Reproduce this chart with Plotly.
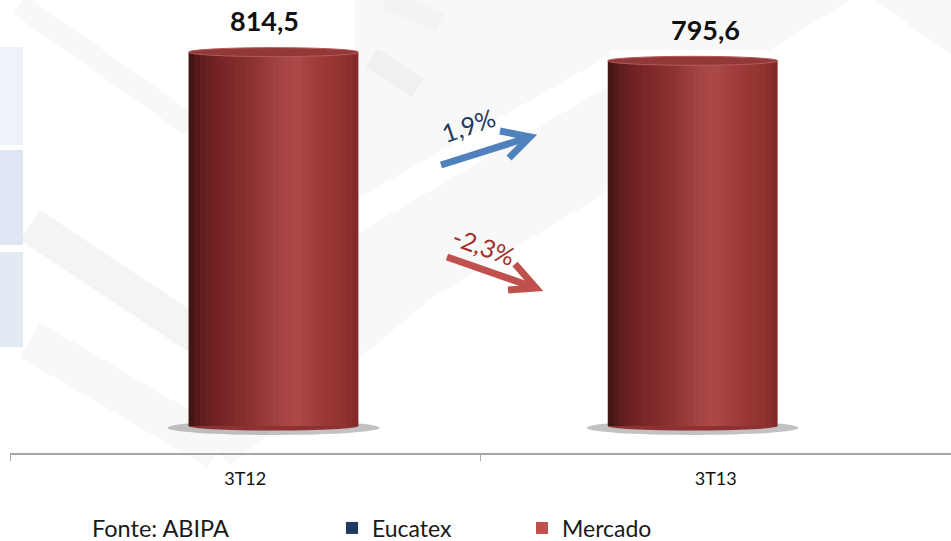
import plotly.graph_objects as go

# data
categories = ["3T12", "3T13"]
mercado = [814.5, 795.6]
eucatex = [None, None]
value_labels = ["814,5", "795,6"]
var_eucatex = "1,9%"
var_mercado = "-2,3%"
fonte = "Fonte: ABIPA"

FONT = "Lato, Open Sans, sans-serif"

# plot area in pixels (used only for decoration placement)
W, H = 951, 541
L, R, T, B = 10, 0, 20, 88
PW, PH = W - L - R, H - T - B


def px(x):
    return (x - L) / PW


def py(y):
    return (H - B - y) / PH


# cylinder geometry (category units)
cyl_w = 0.361
cyl_off = [0.06, -0.049]
n_strips = 30
stops = [(0.0, (58, 18, 18)), (0.06, (92, 28, 28)), (0.18, (118, 36, 36)),
         (0.38, (140, 50, 50)), (0.56, (168, 70, 70)), (0.63, (172, 74, 74)),
         (0.78, (156, 58, 58)), (0.92, (145, 50, 48)), (1.0, (128, 40, 40))]


def grad(t):
    for (t0, c0), (t1, c1) in zip(stops, stops[1:]):
        if t <= t1:
            f = (t - t0) / (t1 - t0)
            c = [round(a + (b - a) * f) for a, b in zip(c0, c1)]
            return "rgb(%d,%d,%d)" % tuple(c)
    return "rgb(%d,%d,%d)" % stops[-1][1]


fig = go.Figure()

sw = cyl_w / n_strips
for i in range(n_strips):
    w = min(sw * 1.6, cyl_w - i * sw)
    fig.add_trace(go.Bar(
        x=categories, y=mercado,
        offset=[o - cyl_w / 2 + i * sw for o in cyl_off],
        width=[w, w],
        marker=dict(color=grad((i + 0.5) / n_strips), line=dict(width=0)),
        showlegend=False, hoverinfo="skip",
    ))

# legend entries
fig.add_trace(go.Bar(x=categories, y=eucatex, name="Eucatex",
                     marker=dict(color="#1f3b63", line=dict(width=0))))
fig.add_trace(go.Bar(x=categories, y=[None] * len(mercado), name="Mercado",
                     marker=dict(color="#c0504d", line=dict(width=0))))

# y scale: zero at pixel 426, 0.459 px per unit
ppu = 0.459
zero_px = 426
y_min = -(H - B - zero_px) / ppu
y_max = (zero_px - T) / ppu
eh = 4.5 / ppu

shapes = []


def poly(pts, color):
    path = "M" + " L".join("%f,%f" % (px(a), py(b)) for a, b in pts) + " Z"
    shapes.append(dict(type="path", xref="paper", yref="paper", path=path,
                       fillcolor=color, line=dict(width=0), layer="below"))


def band(p0, p1, width, color):
    shapes.append(dict(type="line", xref="paper", yref="paper",
                       x0=px(p0[0]), y0=py(p0[1]), x1=px(p1[0]), y1=py(p1[1]),
                       line=dict(color=color, width=width), layer="below"))


# faint background pattern
bg = "#f8f8f9"
poly([(355, 0), (610, 0), (610, 55), (355, 200)], bg)
poly([(355, 235), (610, 85), (610, 190), (355, 345)], bg)
poly([(610, 0), (850, 0), (770, 50), (610, 50)], bg)
poly([(875, 0), (951, 0), (951, 55)], bg)
band((30, 225), (218, 350), 36, "#f4f4f5")
band((30, 340), (218, 450), 40, bg)
band((218, 450), (470, 240), 40, bg)
band((20, 5), (190, 125), 22, bg)
band((372, 58), (418, 88), 22, "#f0f0f1")
band((385, 0), (440, 22), 20, "#f3f3f4")

# pale blue boxes on the left edge
for (y0, y1, c) in [(47, 145, "#eef3fa"), (150, 245, "#dde6f2"), (252, 347, "#e3eaf4")]:
    shapes.append(dict(type="rect", xref="paper", yref="paper",
                       x0=px(-2), x1=px(23), y0=py(y1), y1=py(y0),
                       fillcolor=c, line=dict(width=0), layer="below"))

# cylinder ends
for k, v in enumerate(mercado):
    cx = k + cyl_off[k]
    shapes.append(dict(type="circle", xref="x", yref="y",
                       x0=cx - cyl_w / 2 - 0.045, x1=cx + cyl_w / 2 + 0.045,
                       y0=-eh * 2.0, y1=eh * 1.2,
                       fillcolor="rgba(80,80,80,0.35)", line=dict(width=0), layer="below"))
    shapes.append(dict(type="circle", xref="x", yref="y",
                       x0=cx - cyl_w / 2, x1=cx + cyl_w / 2, y0=-eh, y1=eh,
                       fillcolor="#8c3232", line=dict(width=0), layer="below"))
    shapes.append(dict(type="circle", xref="x", yref="y",
                       x0=cx - cyl_w / 2, x1=cx + cyl_w / 2, y0=v - eh, y1=v + eh,
                       fillcolor="#933838", line=dict(color="#b45a5a", width=1), layer="above"))


# arrows with open chevron heads
def arrow(p0, tip, a1, a2, color):
    pts = lambda *ps: " L".join("%f,%f" % (px(a), py(b)) for a, b in ps)
    shapes.append(dict(type="path", xref="paper", yref="paper",
                       path="M" + pts(p0, tip), line=dict(color=color, width=7), layer="above"))
    shapes.append(dict(type="path", xref="paper", yref="paper",
                       path="M" + pts(a1, tip, a2), line=dict(color=color, width=7), layer="above"))


arrow((441, 165), (530, 137), (500, 131), (509, 158), "#4f81bd")
arrow((447, 257), (536, 288), (515, 264), (508, 290), "#c0504d")

annotations = [
    dict(xref="paper", yref="paper", x=px(468), y=py(125), xanchor="center", yanchor="middle",
         text=var_eucatex, showarrow=False, textangle=-19,
         font=dict(family=FONT, size=25, color="#1f3a5f")),
    dict(xref="paper", yref="paper", x=px(484), y=py(246), xanchor="center", yanchor="middle",
         text=var_mercado, showarrow=False, textangle=20,
         font=dict(family=FONT, size=25, color="#a3302e")),
    dict(xref="paper", yref="paper", x=px(90), y=py(528), xanchor="left", yanchor="middle",
         text=fonte, showarrow=False, font=dict(family=FONT, size=23.5, color="#1a1a1a")),
]
label_dx = [0.04, -0.021]
for k, (v, t) in enumerate(zip(mercado, value_labels)):
    annotations.append(dict(x=k + label_dx[k], y=v, xref="x", yref="y", text="<b>%s</b>" % t,
                            showarrow=False, xanchor="center", yanchor="bottom", yshift=13,
                            font=dict(family=FONT, size=27, color="#111111")))

fig.update_layout(
    width=W, height=H,
    margin=dict(l=L, r=R, t=T, b=B, autoexpand=False),
    paper_bgcolor="white", plot_bgcolor="rgba(0,0,0,0)",
    barmode="overlay",
    shapes=shapes, annotations=annotations,
    xaxis=dict(type="category", range=[-0.5, 1.5], showgrid=False, zeroline=False,
               showline=True, linecolor="#a6a6a6", linewidth=2,
               ticks="outside", tickson="boundaries", ticklen=6, tickcolor="#a6a6a6",
               tickwidth=1, ticklabelstandoff=8,
               tickfont=dict(family=FONT, size=18, color="#111111")),
    yaxis=dict(visible=False, range=[y_min, y_max], showgrid=False, zeroline=False),
    showlegend=True,
    legend=dict(orientation="h", x=px(332), xanchor="left", y=py(528), yanchor="middle",
                font=dict(family=FONT, size=23, color="#1a1a1a"),
                entrywidth=145, bgcolor="rgba(0,0,0,0)", traceorder="normal"),
)

fig.write_html("out.html", config={"displayModeBar": False},
               post_script="document.body.style.margin='0';")
